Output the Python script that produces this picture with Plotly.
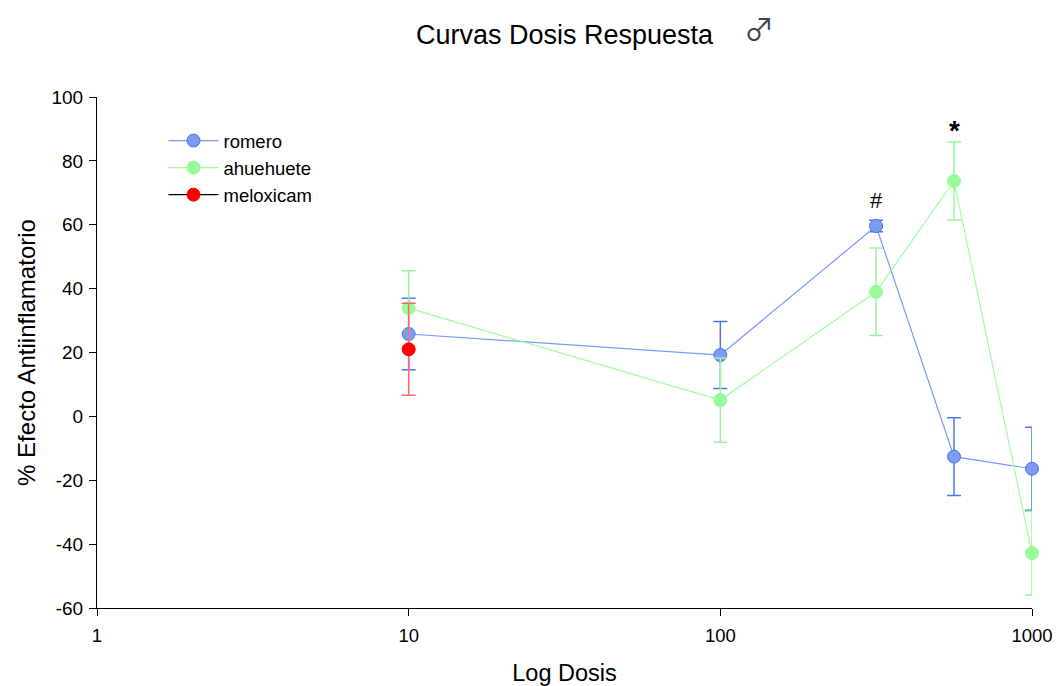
import plotly.graph_objects as go

dosis_romero = [10, 100, 316, 562, 1000]
romero = [25.8, 19.2, 59.6, -12.6, -16.4]
romero_err = [11.2, 10.5, 1.8, 12.2, 13.0]

dosis_ahuehuete = [10, 100, 316, 562, 1000]
ahuehuete = [33.9, 5.1, 39.0, 73.7, -42.8]
ahuehuete_err = [11.7, 13.2, 13.7, 12.2, 13.1]

dosis_meloxicam = [10]
meloxicam = [21.0]
meloxicam_err = [14.4]

y_ticks = list(range(-60, 101, 20))
y_ticktext = [str(v) for v in y_ticks]
x_ticks = [1, 10, 100, 1000]
x_ticktext = ["1", "10", "100", "1000"]

fig = go.Figure()
fig.add_trace(go.Scatter(
    x=dosis_romero, y=romero, name="romero", mode="lines+markers", cliponaxis=False,
    line=dict(color="#7799ff", width=1.2),
    marker=dict(size=13, color="#7b9cf2", line=dict(color="#4f75e6", width=1)),
    error_y=dict(type="data", array=romero_err, color="#4f78ea", thickness=1.5, width=7),
))
fig.add_trace(go.Scatter(
    x=dosis_ahuehuete, y=ahuehuete, name="ahuehuete", mode="lines+markers", cliponaxis=False,
    line=dict(color="#99ff99", width=1.2),
    marker=dict(size=13, color="#99fb99", line=dict(color="#99fb99", width=1)),
    error_y=dict(type="data", array=ahuehuete_err, color="#99f599", thickness=1.5, width=7),
))
fig.add_trace(go.Scatter(
    x=dosis_meloxicam, y=meloxicam, name="meloxicam", mode="lines+markers", cliponaxis=False,
    line=dict(color="black", width=1.2),
    marker=dict(size=13, color="#ff0000", line=dict(color="#ff0000", width=1)),
    error_y=dict(type="data", array=meloxicam_err, color="#ff6666", thickness=1.5, width=7),
))

fig.add_annotation(x=2.5, y=67.5, xref="x", yref="y", text="#", showarrow=False,
                   font=dict(size=22, color="black", family="Liberation Sans"))
fig.add_annotation(x=2.75, y=89.5, xref="x", yref="y", text="<b>*</b>", showarrow=False,
                   font=dict(size=28, color="black", family="Liberation Sans"))

fig.add_annotation(x=(565 - 97) / 935, y=(608 - 35) / 511, xref="paper", yref="paper",
                   xanchor="center", yanchor="middle",
                   text="Curvas Dosis Respuesta", showarrow=False,
                   font=dict(size=27, color="black", family="Liberation Sans"))
fig.add_annotation(x=(759 - 97) / 935, y=(608 - 27) / 511, xref="paper", yref="paper",
                   xanchor="center", yanchor="middle",
                   text="♂", showarrow=False,
                   font=dict(size=30, color="#444444", family="Noto Sans CJK JP"))

fig.update_layout(
    width=1058, height=686,
    margin=dict(l=97, r=26, t=97, b=78),
    paper_bgcolor="white", plot_bgcolor="white",
    font=dict(family="Liberation Sans", size=18, color="black"),
    showlegend=True,
    legend=dict(x=0.0711, y=0.951, xanchor="left", yanchor="top",
                bgcolor="rgba(0,0,0,0)", font=dict(size=18.5),
                itemwidth=50, tracegroupgap=2),
    xaxis=dict(type="log", range=[0, 3], showgrid=False, zeroline=False, automargin=False,
               showline=True, linecolor="black", linewidth=1.2,
               ticks="outside", ticklen=7, tickcolor="black",
               tickvals=x_ticks, ticktext=x_ticktext, ticklabelstandoff=4,
               tickfont=dict(size=18.5),
               title=dict(text="Log Dosis", font=dict(size=23.5), standoff=22)),
    yaxis=dict(range=[-60, 100], showgrid=False, zeroline=False, automargin=False,
               showline=True, linecolor="black", linewidth=1.2,
               ticks="outside", ticklen=7, tickcolor="black",
               tickvals=y_ticks, ticktext=y_ticktext, ticklabelstandoff=2,
               tickfont=dict(size=19),
               title=dict(text="% Efecto Antiinflamatorio", font=dict(size=24), standoff=8)),
)

fig.write_html("out.html")
